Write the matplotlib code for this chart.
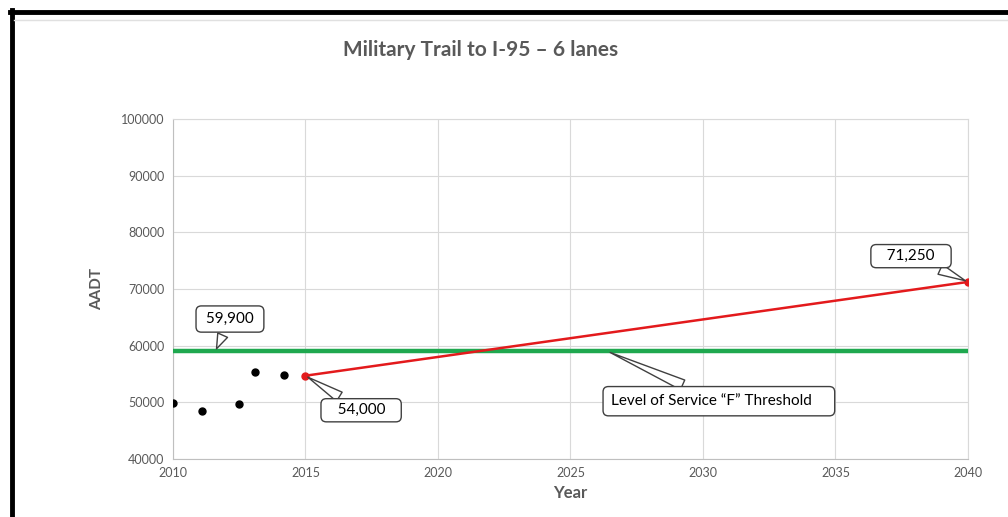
import matplotlib
matplotlib.use("Agg")
import matplotlib.pyplot as plt
from matplotlib.lines import Line2D

plt.rcParams['font.family'] = ['Lato', 'DejaVu Sans']

# historic counts
hist_years = [2010.0, 2011.1, 2012.5, 2013.1, 2014.2]
hist_aadt = [49800, 48500, 49700, 55300, 54800]

# projection
proj_years = [2015, 2040]
proj_aadt = [54700, 71250]

# level of service F threshold
threshold_years = [2010, 2040]
threshold = 59000

xticks = [2010, 2015, 2020, 2025, 2030, 2035, 2040]
yticks = [40000, 50000, 60000, 70000, 80000, 90000, 100000]

grey = '#595959'
grid = '#d9d9d9'

fig = plt.figure(figsize=(10.08, 5.17), dpi=100)
ax = fig.add_axes([0.1716, 0.1122, 0.7887, 0.6576])

ax.plot(threshold_years, [threshold, threshold], color='#1fa84f', lw=3.2, zorder=3)
ax.plot(proj_years, proj_aadt, color='#e31a1c', lw=1.8, marker='o', ms=5, zorder=4)
ax.plot(hist_years, hist_aadt, 'o', color='black', ms=5, zorder=4)

ax.set_xlim(2010, 2040)
ax.set_ylim(40000, 100000)
ax.set_xticks(xticks)
ax.set_yticks(yticks)
ax.tick_params(length=0, labelsize=9, labelcolor=grey, pad=6)
ax.grid(True, color=grid, lw=0.8)
ax.set_axisbelow(True)
for s in ax.spines.values():
    s.set_color(grid)
    s.set_linewidth(0.8)
ax.spines['left'].set_color('#bfbfbf')
ax.spines['bottom'].set_color('#bfbfbf')

ax.set_xlabel('Year', fontsize=12, fontweight='bold', color=grey, labelpad=4)
ax.set_ylabel('AADT', fontsize=11, fontweight='bold', color=grey, labelpad=12)
fig.text(0.477, 0.903, 'Military Trail to I-95 \u2013 6 lanes', ha='center', va='center',
         fontsize=15, fontweight='bold', color=grey)

wedge = dict(arrowstyle='wedge,tail_width=0.7,shrink_factor=0.5', fc='white', ec='#404040', lw=1)

# text, point, box centre, spaces before/after, box pad
callouts = [
    ('59,900', (2011.6, threshold), (2012.15, 64700), (1, 1), 0.4),
    ('54,000', (proj_years[0], proj_aadt[0]), (2017.1, 48600), (3, 3), 0.3),
    ('71,250', (proj_years[1], proj_aadt[1]), (2037.85, 75800), (3, 3), 0.3),
    ('Level of Service \u201cF\u201d Threshold', (2026.4, threshold), (2030.6, 50200), (0, 4), 0.5),
]
for txt, pt, pos, (sl, sr), pad in callouts:
    box = dict(boxstyle='round,pad=%s,rounding_size=0.35' % pad, fc='white', ec='#404040', lw=1)
    ax.annotate('\u00a0' * sl + txt + '\u00a0' * sr, xy=pt, xytext=pos, ha='center', va='center',
                fontsize=11, color='black', bbox=box, arrowprops=wedge, zorder=5)

# screenshot frame
fig.add_artist(Line2D([12 / 1008, 12 / 1008], [0, 1 - 10 / 517], transform=fig.transFigure,
                      color='black', lw=3.5))
fig.add_artist(Line2D([10 / 1008, 1], [1 - 11.5 / 517, 1 - 11.5 / 517], transform=fig.transFigure,
                      color='black', lw=3.5))
fig.add_artist(Line2D([14 / 1008, 1], [1 - 20 / 517, 1 - 20 / 517], transform=fig.transFigure,
                      color='#e0e0e0', lw=1))

fig.savefig('out.png', dpi=100)
